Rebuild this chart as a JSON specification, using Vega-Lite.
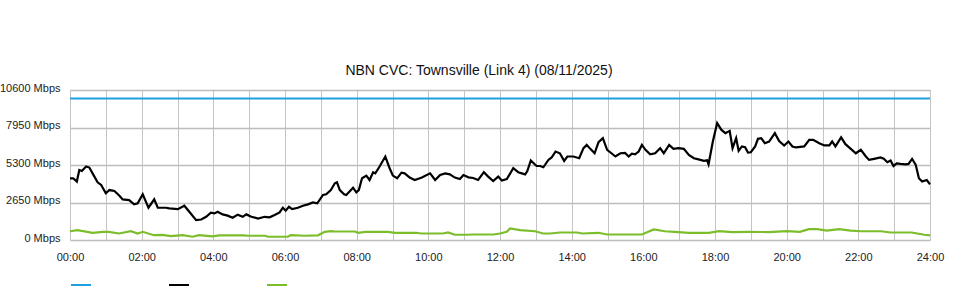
{
  "$schema": "https://vega.github.io/schema/vega-lite/v6.json",
  "width": 860,
  "height": 150,
  "autosize": {"type": "none"},
  "padding": {"left": 70, "top": 90, "right": 30, "bottom": 60},
  "background": "#ffffff",
  "title": {"text": "NBN CVC: Townsville (Link 4) (08/11/2025)", "font": "Liberation Sans", "fontSize": 14, "fontWeight": "normal", "color": "#111111", "anchor": "middle", "frame": "group", "dx": -21, "offset": 4},
  "config": {
    "view": {"stroke": null},
    "axis": {"labelFont": "Liberation Sans", "labelFontSize": 11, "labelColor": "#222222", "gridColor": "#c4c4c4", "gridWidth": 1, "gridOpacity": 1, "domain": false, "ticks": false, "title": null},
    "axisY": {"gridColor": "#bdbdbd", "gridWidth": 1.6}
  },
  "data": {"values": [
    {"s":"Capacity","h":0,"v":10000},{"s":"Capacity","h":24,"v":10000},
    {"s":"Download","h":0,"v":4360},{"s":"Download","h":0.09,"v":4360},{"s":"Download","h":0.19,"v":4130},{"s":"Download","h":0.26,"v":4950},{"s":"Download","h":0.33,"v":4880},{"s":"Download","h":0.45,"v":5190},{"s":"Download","h":0.54,"v":5120},{"s":"Download","h":0.63,"v":4710},{"s":"Download","h":0.77,"v":4080},{"s":"Download","h":0.87,"v":3890},{"s":"Download","h":1.0,"v":3300},{"s":"Download","h":1.1,"v":3530},{"s":"Download","h":1.24,"v":3460},{"s":"Download","h":1.38,"v":3130},{"s":"Download","h":1.47,"v":2870},{"s":"Download","h":1.65,"v":2820},{"s":"Download","h":1.79,"v":2520},{"s":"Download","h":1.89,"v":2590},{"s":"Download","h":2.03,"v":3230},{"s":"Download","h":2.19,"v":2280},{"s":"Download","h":2.35,"v":2870},{"s":"Download","h":2.45,"v":2280},{"s":"Download","h":2.68,"v":2280},{"s":"Download","h":2.77,"v":2230},{"s":"Download","h":3.01,"v":2180},{"s":"Download","h":3.19,"v":2420},{"s":"Download","h":3.33,"v":2000},{"s":"Download","h":3.52,"v":1400},{"s":"Download","h":3.66,"v":1450},{"s":"Download","h":3.8,"v":1640},{"s":"Download","h":3.93,"v":1930},{"s":"Download","h":4.03,"v":1880},{"s":"Download","h":4.12,"v":2000},{"s":"Download","h":4.26,"v":1810},{"s":"Download","h":4.4,"v":1720},{"s":"Download","h":4.54,"v":1570},{"s":"Download","h":4.68,"v":1790},{"s":"Download","h":4.82,"v":1640},{"s":"Download","h":4.92,"v":1810},{"s":"Download","h":5.06,"v":1640},{"s":"Download","h":5.25,"v":1520},{"s":"Download","h":5.43,"v":1640},{"s":"Download","h":5.57,"v":1600},{"s":"Download","h":5.71,"v":1760},{"s":"Download","h":5.85,"v":1950},{"s":"Download","h":5.94,"v":2280},{"s":"Download","h":6.02,"v":2070},{"s":"Download","h":6.11,"v":2350},{"s":"Download","h":6.2,"v":2180},{"s":"Download","h":6.36,"v":2280},{"s":"Download","h":6.5,"v":2420},{"s":"Download","h":6.64,"v":2520},{"s":"Download","h":6.78,"v":2660},{"s":"Download","h":6.9,"v":2590},{"s":"Download","h":7.06,"v":3180},{"s":"Download","h":7.15,"v":3230},{"s":"Download","h":7.28,"v":3530},{"s":"Download","h":7.39,"v":4010},{"s":"Download","h":7.45,"v":4080},{"s":"Download","h":7.53,"v":3530},{"s":"Download","h":7.65,"v":3230},{"s":"Download","h":7.71,"v":3180},{"s":"Download","h":7.9,"v":3700},{"s":"Download","h":7.99,"v":3370},{"s":"Download","h":8.06,"v":3530},{"s":"Download","h":8.15,"v":4360},{"s":"Download","h":8.27,"v":4550},{"s":"Download","h":8.36,"v":4240},{"s":"Download","h":8.46,"v":4790},{"s":"Download","h":8.52,"v":4710},{"s":"Download","h":8.64,"v":5190},{"s":"Download","h":8.8,"v":5900},{"s":"Download","h":8.92,"v":5070},{"s":"Download","h":9.01,"v":4550},{"s":"Download","h":9.13,"v":4360},{"s":"Download","h":9.25,"v":4760},{"s":"Download","h":9.34,"v":4710},{"s":"Download","h":9.48,"v":4410},{"s":"Download","h":9.62,"v":4240},{"s":"Download","h":9.82,"v":4410},{"s":"Download","h":10.05,"v":4710},{"s":"Download","h":10.19,"v":4240},{"s":"Download","h":10.33,"v":4590},{"s":"Download","h":10.47,"v":4710},{"s":"Download","h":10.6,"v":4640},{"s":"Download","h":10.74,"v":4410},{"s":"Download","h":10.88,"v":4310},{"s":"Download","h":10.98,"v":4590},{"s":"Download","h":11.12,"v":4430},{"s":"Download","h":11.25,"v":4380},{"s":"Download","h":11.39,"v":4240},{"s":"Download","h":11.55,"v":4790},{"s":"Download","h":11.67,"v":4480},{"s":"Download","h":11.81,"v":4170},{"s":"Download","h":11.95,"v":4480},{"s":"Download","h":12.05,"v":4200},{"s":"Download","h":12.19,"v":4310},{"s":"Download","h":12.37,"v":5070},{"s":"Download","h":12.51,"v":4790},{"s":"Download","h":12.7,"v":4640},{"s":"Download","h":12.76,"v":4850},{"s":"Download","h":12.86,"v":5620},{"s":"Download","h":13.02,"v":5230},{"s":"Download","h":13.12,"v":5230},{"s":"Download","h":13.21,"v":5140},{"s":"Download","h":13.35,"v":5660},{"s":"Download","h":13.44,"v":5830},{"s":"Download","h":13.55,"v":6250},{"s":"Download","h":13.67,"v":6130},{"s":"Download","h":13.79,"v":5590},{"s":"Download","h":13.88,"v":5900},{"s":"Download","h":14.05,"v":5900},{"s":"Download","h":14.21,"v":5780},{"s":"Download","h":14.33,"v":6490},{"s":"Download","h":14.42,"v":6720},{"s":"Download","h":14.52,"v":6440},{"s":"Download","h":14.64,"v":6130},{"s":"Download","h":14.75,"v":6910},{"s":"Download","h":14.87,"v":7200},{"s":"Download","h":14.99,"v":6370},{"s":"Download","h":15.11,"v":6130},{"s":"Download","h":15.22,"v":5900},{"s":"Download","h":15.36,"v":6130},{"s":"Download","h":15.49,"v":6150},{"s":"Download","h":15.59,"v":5900},{"s":"Download","h":15.68,"v":6100},{"s":"Download","h":15.77,"v":6050},{"s":"Download","h":15.87,"v":6250},{"s":"Download","h":15.96,"v":6720},{"s":"Download","h":16.06,"v":6370},{"s":"Download","h":16.19,"v":6060},{"s":"Download","h":16.33,"v":6130},{"s":"Download","h":16.47,"v":6490},{"s":"Download","h":16.57,"v":6130},{"s":"Download","h":16.72,"v":6720},{"s":"Download","h":16.84,"v":6440},{"s":"Download","h":16.98,"v":6490},{"s":"Download","h":17.13,"v":6440},{"s":"Download","h":17.27,"v":6010},{"s":"Download","h":17.41,"v":5780},{"s":"Download","h":17.54,"v":5700},{"s":"Download","h":17.69,"v":5590},{"s":"Download","h":17.78,"v":5630},{"s":"Download","h":17.82,"v":5350},{"s":"Download","h":17.94,"v":6960},{"s":"Download","h":18.06,"v":8260},{"s":"Download","h":18.18,"v":7780},{"s":"Download","h":18.29,"v":7550},{"s":"Download","h":18.41,"v":7710},{"s":"Download","h":18.49,"v":6490},{"s":"Download","h":18.59,"v":7200},{"s":"Download","h":18.66,"v":6300},{"s":"Download","h":18.75,"v":6610},{"s":"Download","h":18.84,"v":6550},{"s":"Download","h":18.92,"v":6180},{"s":"Download","h":19.0,"v":6200},{"s":"Download","h":19.12,"v":6610},{"s":"Download","h":19.2,"v":7150},{"s":"Download","h":19.29,"v":7200},{"s":"Download","h":19.39,"v":6840},{"s":"Download","h":19.51,"v":6960},{"s":"Download","h":19.67,"v":7550},{"s":"Download","h":19.79,"v":7000},{"s":"Download","h":19.93,"v":6680},{"s":"Download","h":20.05,"v":6960},{"s":"Download","h":20.16,"v":6610},{"s":"Download","h":20.26,"v":6540},{"s":"Download","h":20.49,"v":6610},{"s":"Download","h":20.63,"v":7080},{"s":"Download","h":20.74,"v":7080},{"s":"Download","h":20.91,"v":6840},{"s":"Download","h":21.05,"v":6680},{"s":"Download","h":21.19,"v":6680},{"s":"Download","h":21.27,"v":6960},{"s":"Download","h":21.36,"v":6610},{"s":"Download","h":21.52,"v":7250},{"s":"Download","h":21.64,"v":6770},{"s":"Download","h":21.79,"v":6440},{"s":"Download","h":21.93,"v":6130},{"s":"Download","h":22.07,"v":6370},{"s":"Download","h":22.21,"v":5900},{"s":"Download","h":22.3,"v":5660},{"s":"Download","h":22.44,"v":5730},{"s":"Download","h":22.62,"v":5830},{"s":"Download","h":22.71,"v":5750},{"s":"Download","h":22.81,"v":5500},{"s":"Download","h":22.9,"v":5620},{"s":"Download","h":22.98,"v":5230},{"s":"Download","h":23.07,"v":5420},{"s":"Download","h":23.18,"v":5380},{"s":"Download","h":23.32,"v":5350},{"s":"Download","h":23.4,"v":5380},{"s":"Download","h":23.5,"v":5730},{"s":"Download","h":23.6,"v":5330},{"s":"Download","h":23.69,"v":4360},{"s":"Download","h":23.78,"v":4130},{"s":"Download","h":23.91,"v":4240},{"s":"Download","h":24,"v":3930},
    {"s":"Upload","h":0,"v":620},{"s":"Upload","h":0.21,"v":690},{"s":"Upload","h":0.63,"v":510},{"s":"Upload","h":0.92,"v":580},{"s":"Upload","h":1.08,"v":580},{"s":"Upload","h":1.37,"v":460},{"s":"Upload","h":1.7,"v":620},{"s":"Upload","h":1.89,"v":460},{"s":"Upload","h":2.03,"v":580},{"s":"Upload","h":2.34,"v":340},{"s":"Upload","h":2.58,"v":360},{"s":"Upload","h":2.82,"v":270},{"s":"Upload","h":3.14,"v":340},{"s":"Upload","h":3.42,"v":230},{"s":"Upload","h":3.6,"v":340},{"s":"Upload","h":3.98,"v":250},{"s":"Upload","h":4.16,"v":320},{"s":"Upload","h":4.83,"v":320},{"s":"Upload","h":5.0,"v":300},{"s":"Upload","h":5.44,"v":300},{"s":"Upload","h":5.53,"v":230},{"s":"Upload","h":6.08,"v":230},{"s":"Upload","h":6.16,"v":350},{"s":"Upload","h":6.56,"v":300},{"s":"Upload","h":6.92,"v":330},{"s":"Upload","h":7.11,"v":580},{"s":"Upload","h":7.28,"v":620},{"s":"Upload","h":7.4,"v":600},{"s":"Upload","h":7.95,"v":600},{"s":"Upload","h":8.04,"v":510},{"s":"Upload","h":8.23,"v":580},{"s":"Upload","h":8.87,"v":580},{"s":"Upload","h":9.07,"v":510},{"s":"Upload","h":9.66,"v":510},{"s":"Upload","h":9.8,"v":460},{"s":"Upload","h":10.41,"v":460},{"s":"Upload","h":10.55,"v":530},{"s":"Upload","h":10.74,"v":370},{"s":"Upload","h":11.08,"v":370},{"s":"Upload","h":11.25,"v":390},{"s":"Upload","h":11.81,"v":390},{"s":"Upload","h":12.0,"v":460},{"s":"Upload","h":12.19,"v":580},{"s":"Upload","h":12.28,"v":815},{"s":"Upload","h":12.56,"v":700},{"s":"Upload","h":12.98,"v":620},{"s":"Upload","h":13.2,"v":460},{"s":"Upload","h":13.4,"v":460},{"s":"Upload","h":13.67,"v":530},{"s":"Upload","h":14.15,"v":530},{"s":"Upload","h":14.3,"v":460},{"s":"Upload","h":14.75,"v":510},{"s":"Upload","h":14.99,"v":390},{"s":"Upload","h":15.96,"v":390},{"s":"Upload","h":16.29,"v":745},{"s":"Upload","h":16.6,"v":620},{"s":"Upload","h":16.88,"v":580},{"s":"Upload","h":17.27,"v":510},{"s":"Upload","h":17.83,"v":510},{"s":"Upload","h":18.11,"v":620},{"s":"Upload","h":18.48,"v":560},{"s":"Upload","h":18.92,"v":580},{"s":"Upload","h":19.5,"v":560},{"s":"Upload","h":20.01,"v":620},{"s":"Upload","h":20.37,"v":580},{"s":"Upload","h":20.62,"v":770},{"s":"Upload","h":20.85,"v":770},{"s":"Upload","h":21.12,"v":660},{"s":"Upload","h":21.46,"v":770},{"s":"Upload","h":21.79,"v":660},{"s":"Upload","h":22.07,"v":620},{"s":"Upload","h":22.63,"v":620},{"s":"Upload","h":22.9,"v":530},{"s":"Upload","h":23.49,"v":530},{"s":"Upload","h":23.84,"v":370},{"s":"Upload","h":24,"v":330}
  ]},
  "mark": {"type": "line", "strokeWidth": 2.2, "interpolate": "linear"},
  "encoding": {
    "x": {"field": "h", "type": "quantitative", "scale": {"domain": [0, 24], "nice": false, "zero": false},
      "axis": {"values": [0,1,2,3,4,5,6,7,8,9,10,11,12,13,14,15,16,17,18,19,20,21,22,23,24], "labelExpr": "datum.value % 2 == 0 ? (datum.value < 10 ? '0' : '') + datum.value + ':00' : ''", "labelPadding": 11, "labelFlush": false}},
    "y": {"field": "v", "type": "quantitative", "scale": {"domain": [0, 10600], "nice": false},
      "axis": {"values": [0, 2650, 5300, 7950, 10600], "labelExpr": "datum.value + ' Mbps'", "labelPadding": 10, "labelOffset": -2}},
    "color": {"field": "s", "type": "nominal",
      "scale": {"domain": ["Capacity", "Download", "Upload"], "range": ["#1e9fe0", "#000000", "#7cbd2b"]},
      "legend": {"orient": "none", "legendX": 0, "legendY": 184, "direction": "horizontal", "symbolType": "stroke", "symbolSize": 400, "symbolStrokeWidth": 2, "labelExpr": "''", "labelOffset": 0, "columnPadding": 70, "padding": 0, "title": null}}
  }
}
